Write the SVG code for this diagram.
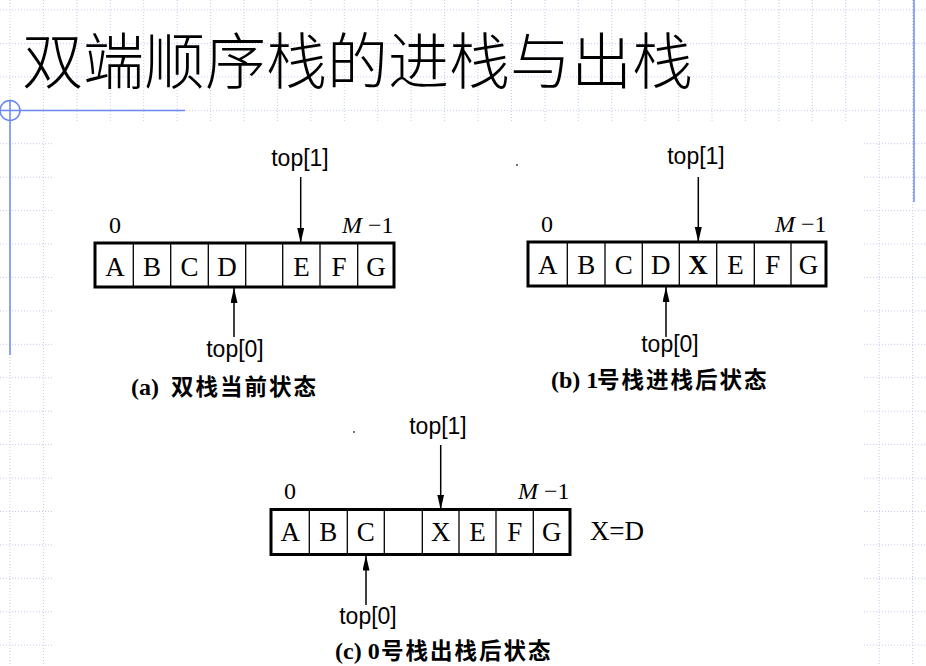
<svg xmlns="http://www.w3.org/2000/svg" width="926" height="666" viewBox="0 0 926 666">
<defs>
<style>
.grid line{stroke:#c3ccf0;stroke-width:1;stroke-dasharray:1 2}
.blue{stroke:#6b87f4;stroke-width:1.5;fill:none}
.title{font-family:"Noto Sans CJK SC","Noto Sans CJK JP",sans-serif;font-size:61px;font-weight:300;fill:#000}
.box{fill:#fff;stroke:#000;stroke-width:3}
.div{stroke:#000;stroke-width:1.3}
.cell{font-family:"Liberation Serif",serif;font-size:27px;text-anchor:middle;fill:#000}
.idx{font-family:"Liberation Serif",serif;font-size:24px;fill:#000}
.ptr{font-family:"Liberation Sans",sans-serif;font-size:23px;text-anchor:middle;fill:#000}
.cap{font-family:"Liberation Serif","Noto Sans CJK SC",serif;font-size:24px;font-weight:bold;fill:#000}
.capc{font-family:"Noto Sans CJK SC","Noto Sans CJK JP",sans-serif;font-weight:bold;font-size:22.5px;letter-spacing:2px}
.arrow{stroke:#000;stroke-width:1.5;fill:none;marker-end:url(#ah)}
</style>
<marker id="ah" markerUnits="userSpaceOnUse" markerWidth="16" markerHeight="8" refX="15" refY="3.5" orient="auto">
<path d="M0,0 L15,3.5 L0,7 Z" fill="#000"/>
</marker>
</defs>
<rect width="926" height="666" fill="#fff"/>
<g class="grid" id="grid">
<line x1="0" y1="10" x2="926" y2="10"/><line x1="0" y1="43.4" x2="926" y2="43.4"/><line x1="0" y1="76.9" x2="926" y2="76.9"/><line x1="0" y1="110.3" x2="926" y2="110.3"/><line x1="0" y1="143.7" x2="926" y2="143.7"/><line x1="0" y1="177.2" x2="926" y2="177.2"/><line x1="0" y1="210.6" x2="926" y2="210.6"/><line x1="0" y1="244" x2="926" y2="244"/><line x1="0" y1="277.4" x2="926" y2="277.4"/><line x1="0" y1="310.9" x2="926" y2="310.9"/><line x1="0" y1="344.3" x2="926" y2="344.3"/><line x1="0" y1="377.7" x2="926" y2="377.7"/><line x1="0" y1="411.2" x2="926" y2="411.2"/><line x1="0" y1="444.6" x2="926" y2="444.6"/><line x1="0" y1="478" x2="926" y2="478"/><line x1="0" y1="511.5" x2="926" y2="511.5"/><line x1="0" y1="544.9" x2="926" y2="544.9"/><line x1="0" y1="578.3" x2="926" y2="578.3"/><line x1="0" y1="611.7" x2="926" y2="611.7"/><line x1="0" y1="645.2" x2="926" y2="645.2"/>
<line x1="10" y1="0" x2="10" y2="666"/><line x1="43.4" y1="0" x2="43.4" y2="666"/><line x1="76.9" y1="0" x2="76.9" y2="666"/><line x1="110.3" y1="0" x2="110.3" y2="666"/><line x1="143.7" y1="0" x2="143.7" y2="666"/><line x1="177.2" y1="0" x2="177.2" y2="666"/><line x1="210.6" y1="0" x2="210.6" y2="666"/><line x1="244" y1="0" x2="244" y2="666"/><line x1="277.4" y1="0" x2="277.4" y2="666"/><line x1="310.9" y1="0" x2="310.9" y2="666"/><line x1="344.3" y1="0" x2="344.3" y2="666"/><line x1="377.7" y1="0" x2="377.7" y2="666"/><line x1="411.2" y1="0" x2="411.2" y2="666"/><line x1="444.6" y1="0" x2="444.6" y2="666"/><line x1="478" y1="0" x2="478" y2="666"/><line x1="511.5" y1="0" x2="511.5" y2="666"/><line x1="544.9" y1="0" x2="544.9" y2="666"/><line x1="578.3" y1="0" x2="578.3" y2="666"/><line x1="611.7" y1="0" x2="611.7" y2="666"/><line x1="645.2" y1="0" x2="645.2" y2="666"/><line x1="678.6" y1="0" x2="678.6" y2="666"/><line x1="712" y1="0" x2="712" y2="666"/><line x1="745.4" y1="0" x2="745.4" y2="666"/><line x1="778.9" y1="0" x2="778.9" y2="666"/><line x1="812.3" y1="0" x2="812.3" y2="666"/><line x1="845.7" y1="0" x2="845.7" y2="666"/><line x1="879.2" y1="0" x2="879.2" y2="666"/><line x1="912.6" y1="0" x2="912.6" y2="666"/>
</g>
<rect x="54" y="122" width="810" height="544" fill="#fff"/>
<g id="decor">
<line class="blue" x1="0" y1="110.5" x2="185" y2="110.5"/>
<circle class="blue" cx="10" cy="110.5" r="10"/>
<line class="blue" x1="10" y1="100" x2="10" y2="355"/>
<line class="blue" x1="914" y1="0" x2="914" y2="202"/>
</g>
<text id="title" class="title" x="22" y="84">双端顺序栈的进栈与出栈</text>

<g id="stack-a">
<rect class="box" x="95" y="243" width="299" height="44"/>
<line class="div" x1="133.3" y1="243" x2="133.3" y2="287"/><line class="div" x1="170.7" y1="243" x2="170.7" y2="287"/><line class="div" x1="208.3" y1="243" x2="208.3" y2="287"/><line class="div" x1="245.7" y1="243" x2="245.7" y2="287"/><line class="div" x1="282.7" y1="243" x2="282.7" y2="287"/><line class="div" x1="320" y1="243" x2="320" y2="287"/><line class="div" x1="357.7" y1="243" x2="357.7" y2="287"/>
<text class="cell" x="115" y="276">A</text><text class="cell" x="152" y="276">B</text><text class="cell" x="189.5" y="276">C</text><text class="cell" x="227" y="276">D</text><text class="cell" x="301.4" y="276">E</text><text class="cell" x="338.9" y="276">F</text><text class="cell" x="375.9" y="276">G</text>
<text class="idx" x="109" y="233">0</text>
<text class="idx" x="342" y="233"><tspan font-style="italic">M</tspan> −1</text>
<text class="ptr" x="300" y="166">top[1]</text>
<text class="ptr" x="235" y="357">top[0]</text>
<text class="cap" x="131" y="395">(a) <tspan class="capc" x="171">双栈当前状态</tspan></text>
</g>

<g id="stack-b">
<rect class="box" x="528" y="242" width="298" height="44"/>
<line class="div" x1="567.3" y1="242" x2="567.3" y2="286"/><line class="div" x1="605" y1="242" x2="605" y2="286"/><line class="div" x1="642.3" y1="242" x2="642.3" y2="286"/><line class="div" x1="679.3" y1="242" x2="679.3" y2="286"/><line class="div" x1="716.7" y1="242" x2="716.7" y2="286"/><line class="div" x1="754.3" y1="242" x2="754.3" y2="286"/><line class="div" x1="791" y1="242" x2="791" y2="286"/>
<text class="cell" x="547.7" y="274">A</text><text class="cell" x="586.2" y="274">B</text><text class="cell" x="623.7" y="274">C</text><text class="cell" x="660.8" y="274">D</text><text class="cell" x="698" y="274" font-weight="bold">X</text><text class="cell" x="735.5" y="274">E</text><text class="cell" x="772.7" y="274">F</text><text class="cell" x="808.5" y="274">G</text>
<text class="idx" x="541" y="232">0</text>
<text class="idx" x="775" y="232"><tspan font-style="italic">M</tspan> −1</text>
<text class="ptr" x="696" y="164">top[1]</text>
<text class="ptr" x="670" y="352">top[0]</text>
<text class="cap" x="551" y="388">(b) 1<tspan class="capc" x="597">号栈进栈后状态</tspan></text>
</g>

<g id="stack-c">
<rect class="box" x="271" y="509.5" width="299" height="45"/>
<line class="div" x1="309.3" y1="509.5" x2="309.3" y2="554.5"/><line class="div" x1="347.3" y1="509.5" x2="347.3" y2="554.5"/><line class="div" x1="384.3" y1="509.5" x2="384.3" y2="554.5"/><line class="div" x1="422.3" y1="509.5" x2="422.3" y2="554.5"/><line class="div" x1="459" y1="509.5" x2="459" y2="554.5"/><line class="div" x1="496" y1="509.5" x2="496" y2="554.5"/><line class="div" x1="533.3" y1="509.5" x2="533.3" y2="554.5"/>
<text class="cell" x="290.2" y="541">A</text><text class="cell" x="328.3" y="541">B</text><text class="cell" x="365.8" y="541">C</text><text class="cell" x="440.7" y="541">X</text><text class="cell" x="477.5" y="541">E</text><text class="cell" x="514.7" y="541">F</text><text class="cell" x="551.7" y="541">G</text>
<text class="idx" x="284" y="499">0</text>
<text class="idx" x="518" y="499"><tspan font-style="italic">M</tspan> −1</text>
<text class="cell" x="617" y="540">X=D</text>
<text class="ptr" x="438" y="434">top[1]</text>
<text class="ptr" x="368" y="624">top[0]</text>
<text class="cap" x="335" y="659">(c) 0<tspan class="capc" x="381">号栈出栈后状态</tspan></text>
</g>

<g id="connectors">
<line class="arrow" x1="300.7" y1="177" x2="300.7" y2="243"/>
<line class="arrow" x1="234" y1="337" x2="234" y2="288"/>
<line class="arrow" x1="698.3" y1="177" x2="698.3" y2="242"/>
<line class="arrow" x1="666" y1="337" x2="666" y2="287"/>
<line class="arrow" x1="440.7" y1="445" x2="440.7" y2="509.5"/>
<line class="arrow" x1="366" y1="605" x2="366" y2="555.5"/>
</g>
<g id="specks" fill="#333">
<circle cx="517" cy="165" r="0.9"/>
<circle cx="354" cy="432" r="0.9"/>
</g>
</svg>
